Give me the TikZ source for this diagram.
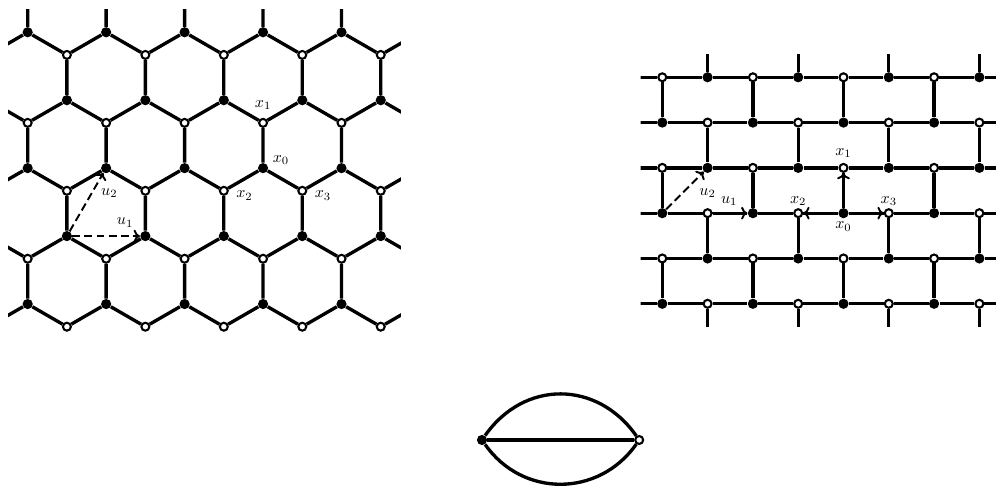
\documentclass[tikz,border=0pt]{standalone}
\usetikzlibrary{positioning,arrows.meta,backgrounds}

\tikzset{
  bdot/.style={circle,fill=black,inner sep=0pt,minimum size=6.4pt},
  wdot/.style={circle,draw=black,fill=white,line width=1.3pt,inner sep=0pt,minimum size=5pt},
  bond/.style={line width=2.1pt},
  lab/.style={font=\normalsize,inner sep=1pt},
  vecarrow/.style={line width=1.2pt,-{To[length=4pt,width=8pt]}},
  dashvec/.style={vecarrow,dash pattern=on 5pt off 2.6pt},
}

\begin{document}
\begin{tikzpicture}
\useasboundingbox (0,0) rectangle (21.987,10.728);

% hexagonal lattice
\begin{scope}[shift={(0.611,10.016)}]
  \foreach \r in {-1,...,4}
    \foreach \c in {-3,...,12} {
      \coordinate (hb-\r-\c) at ({0.866*\c},{-1.5*\r});
      \coordinate (hw-\r-\c) at ({0.866*\c},{-1.5*\r-0.5});
    }
  \foreach \r in {0,...,4}
    \foreach \k in {0,...,4} {
      \pgfmathtruncatemacro\cb{2*\k+mod(\r,2)}
      \pgfmathtruncatemacro\cw{2*\k+mod(\r+1,2)}
      \node[bdot] (hb-\r-\cb) at (hb-\r-\cb) {};
      \node[wdot] (hw-\r-\cw) at (hw-\r-\cw) {};
    }
\end{scope}

% brick lattice
\begin{scope}[shift={(14.62,9.022)}]
  \foreach \i in {-1,...,8}
    \foreach \j in {-1,...,6}
      \coordinate (br-\i-\j) at (\i,-\j);
  \foreach \i in {0,...,7}
    \foreach \j in {0,...,5} {
      \pgfmathtruncatemacro\p{mod(\i+\j,2)}
      \ifnum\p=0 \node[wdot] (br-\i-\j) at (br-\i-\j) {};
      \else \node[bdot] (br-\i-\j) at (br-\i-\j) {};
      \fi
    }
\end{scope}

% theta graph
\node[bdot] (tl) at (10.64,1.015) {};
\node[wdot] (tr) at (14.11,1.015) {};

\begin{pgfonlayer}{background}
  \begin{scope}
    \clip (0.177,3) rectangle (8.85,10.51);
    \foreach \r in {0,...,4}
      \foreach \k in {-1,...,5} {
        \pgfmathtruncatemacro\c{2*\k+mod(\r,2)}
        \pgfmathtruncatemacro\cl{\c-1}
        \pgfmathtruncatemacro\cr{\c+1}
        \pgfmathtruncatemacro\ru{\r-1}
        \draw[bond] (hw-\ru-\c) -- (hb-\r-\c) (hb-\r-\c) -- (hw-\r-\cl) (hb-\r-\c) -- (hw-\r-\cr);
      }
  \end{scope}
  \begin{scope}
    \clip (14.14,3.52) rectangle (22,9.52);
    \foreach \j in {0,...,5}
      \foreach \i in {-1,...,7} {
        \pgfmathtruncatemacro\ii{\i+1}
        \draw[bond] (br-\i-\j) -- (br-\ii-\j);
      }
    \foreach \j in {-1,...,5}
      \foreach \i in {0,...,7} {
        \pgfmathtruncatemacro\p{mod(\i+\j,2)}
        \pgfmathtruncatemacro\jj{\j+1}
        \ifnum\p=0 \draw[bond] (br-\i-\j) -- (br-\i-\jj); \fi
      }
  \end{scope}
  \draw[bond] (tl) to[out=55,in=125,looseness=1.15] (tr);
  \draw[bond] (tl) to[out=-55,in=-125,looseness=1.1] (tr);
  \draw[bond] (tl) -- (tr);

  % translation vectors
  \draw[dashvec] (hb-3-1) -- node[lab,pos=.78,above=4pt] (hu1) {$u_1$} (hb-3-3);
  \draw[dashvec] (hb-3-1) -- (hb-2-2);
  \draw[vecarrow] (br-0-3) -- node[lab,pos=.77,above=3pt] (bu1) {$u_1$} (br-2-3);
  \draw[dashvec] (br-0-3) -- (br-1-2);
  % neighbours of x_0
  \draw[vecarrow] (br-4-3) -- (br-4-2);
  \draw[vecarrow] (br-4-3) -- (br-3-3);
  \draw[vecarrow] (br-4-3) -- (br-5-3);
\end{pgfonlayer}

% labels
\node[lab,below=8pt of hb-2-2,xshift=2pt] (hu2) {$u_2$};
\node[lab,above=4pt of hw-1-6] (hx1) {$x_1$};
\node[lab,above right=-1.5pt and 2.5pt of hb-2-6] (hx0) {$x_0$};
\node[lab,right=3.5pt of hw-2-5,yshift=-3pt] (hx2) {$x_2$};
\node[lab,right=3.5pt of hw-2-7,yshift=-3pt] (hx3) {$x_3$};

\node[lab,below=8.5pt of br-1-2] (bu2) {$u_2$};
\node[lab,above=2pt of br-4-2] (bx1) {$x_1$};
\node[lab,below=1pt of br-4-3] (bx0) {$x_0$};
\node[lab,above=0.5pt of br-3-3] (bx2) {$x_2$};
\node[lab,above=0.5pt of br-5-3] (bx3) {$x_3$};
\end{tikzpicture}
\end{document}
